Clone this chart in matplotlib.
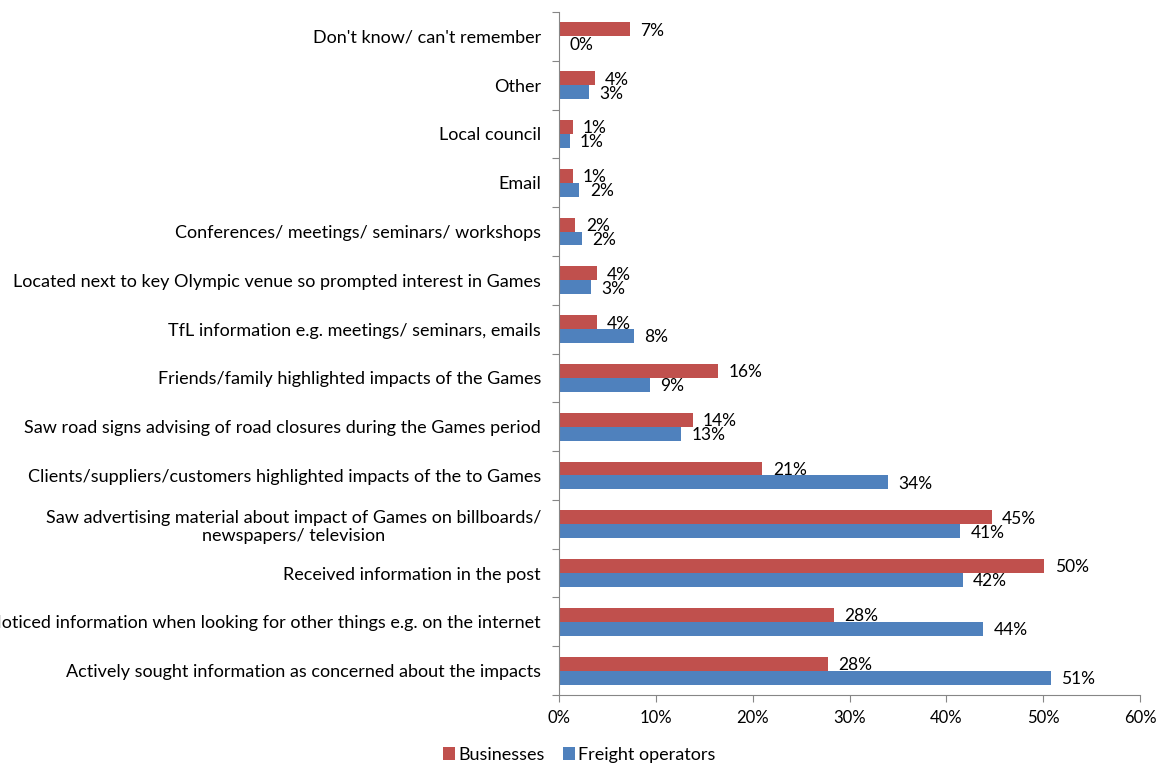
import matplotlib
matplotlib.use("Agg")
import matplotlib.pyplot as plt
import numpy as np

plt.rcParams['font.family'] = ['Lato', 'DejaVu Sans']

# Sources of information, listed bottom to top
categories = [
    "Actively sought information as concerned about the impacts",
    "Noticed information when looking for other things e.g. on the internet",
    "Received information in the post",
    "Saw advertising material about impact of Games on billboards/\nnewspapers/ television",
    "Clients/suppliers/customers highlighted impacts of the to Games",
    "Saw road signs advising of road closures during the Games period",
    "Friends/family highlighted impacts of the Games",
    "TfL information e.g. meetings/ seminars, emails",
    "Located next to key Olympic venue so prompted interest in Games",
    "Conferences/ meetings/ seminars/ workshops",
    "Email",
    "Local council",
    "Other",
    "Don't know/ can't remember",
]

businesses = [27.8, 28.4, 50.1, 44.7, 21.0, 13.8, 16.4, 3.9, 3.9, 1.7, 1.4, 1.4, 3.7, 7.3]
freight = [50.8, 43.8, 41.7, 41.4, 34.0, 12.6, 9.4, 7.7, 3.3, 2.4, 2.1, 1.1, 3.1, 0.0]

series_names = ["Businesses", "Freight operators"]
colors = ["#C0504D", "#4F81BD"]
xticks = [0, 10, 20, 30, 40, 50, 60]

W, H = 1162, 765
fig = plt.figure(figsize=(W / 100, H / 100), dpi=100)
ax = fig.add_axes([559 / W, 1 - 695 / H, (1140 - 559) / W, (695 - 12) / H])

y = np.arange(len(categories))
bar_h = 0.286
off = bar_h / 2

b1 = ax.barh(y + off, businesses, height=bar_h, color=colors[0], label=series_names[0])
b2 = ax.barh(y - off, freight, height=bar_h, color=colors[1], label=series_names[1])

for bars, vals in ((b1, businesses), (b2, freight)):
    for rect, v in zip(bars, vals):
        ax.annotate(f"{v:.0f}%", xy=(v, rect.get_y() + rect.get_height() / 2),
                    xytext=(7.5, -1), textcoords="offset points",
                    ha="left", va="center", fontsize=12.5, color="black")

ax.set_xlim(0, 60)
ax.set_ylim(-0.5, len(categories) - 0.5)
ax.set_xticks(xticks)
ax.set_xticklabels([f"{t}%" for t in xticks], fontsize=12)

# category boundaries carry the tick marks, labels sit at the centres
ax.set_yticks(np.arange(-0.5, len(categories), 1.0))
ax.set_yticklabels([])
ax.set_yticks(y, minor=True)
ax.set_yticklabels(categories, minor=True, fontsize=13, multialignment="center")
ax.tick_params(axis="y", which="minor", length=0, pad=13)
ax.tick_params(axis="y", which="major", length=5, color="#868686", direction="out")
ax.tick_params(axis="x", length=5, color="#868686", direction="out", pad=6)

for s in ("top", "right"):
    ax.spines[s].set_visible(False)
for s in ("left", "bottom"):
    ax.spines[s].set_color("#868686")

leg = fig.legend(handles=[b1, b2], labels=series_names, loc="center",
                 bbox_to_anchor=(579 / W, 1 - 755 / H), ncol=2, frameon=False,
                 fontsize=13, handlelength=0.7, handleheight=0.7,
                 handletextpad=0.15, columnspacing=1.0)

fig.savefig("out.png", dpi=100)
